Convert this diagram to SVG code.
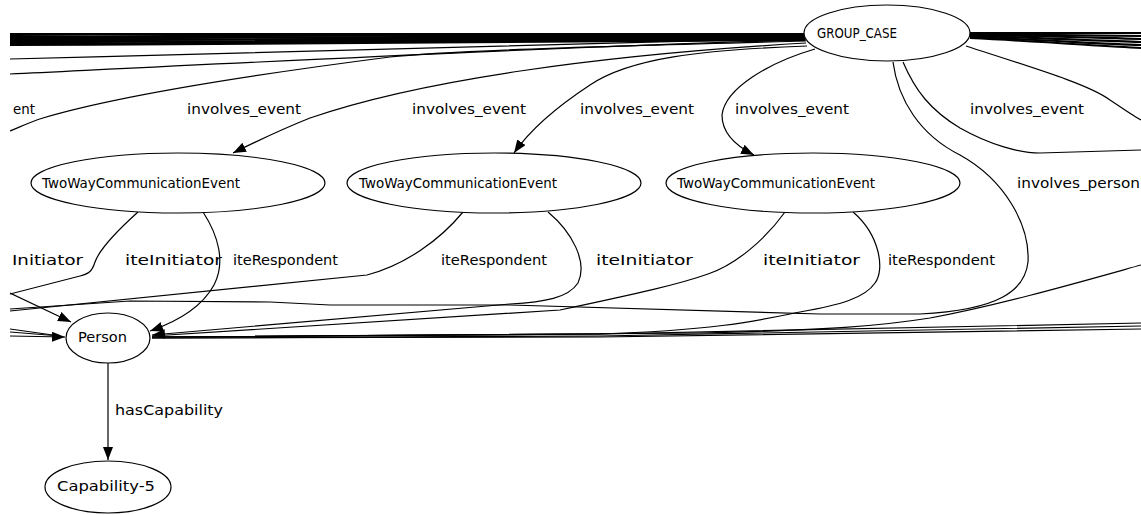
<svg xmlns="http://www.w3.org/2000/svg" width="1141" height="515" viewBox="0 0 1141 515">
<style>
.e path{fill:none;stroke:#000;stroke-width:1.2}
.b path{stroke-width:2.2}
.n ellipse{fill:#fff;stroke:#000;stroke-width:1.2}
text{font-family:"DejaVu Sans",sans-serif;font-size:14px;fill:#000}
</style>
<defs>
<marker id="ah" markerUnits="userSpaceOnUse" markerWidth="14" markerHeight="11" refX="13" refY="5" orient="auto">
<path d="M0,0 L13,5 L0,10 z" fill="#000"/>
</marker>
<clipPath id="clip"><rect x="10" y="0" width="1131" height="515"/></clipPath>
</defs>
<rect width="1141" height="515" fill="#fff"/>
<g class="e" id="edges" clip-path="url(#clip)">
<g class="b">
<path d="M805,34 C600,34 300,34 10,34"/>
<path d="M805,35 C600,36 300,37 10,36"/>
<path d="M805,36 C600,37 300,39 10,38"/>
<path d="M805,37 C600,38 300,41 10,40"/>
<path d="M805,38 C600,39 300,42 10,42"/>
<path d="M805,39 C600,40 300,43 10,44"/>
<path d="M805,40 C600,41 300,44 10,45"/>
<path d="M970,33 L1141,33"/>
<path d="M970,34 L1141,36"/>
<path d="M970,35 C1050,36 1100,38 1141,39"/>
<path d="M970,36 C1050,38 1100,41 1141,42"/>
<path d="M970,37 C1050,40 1100,44 1141,45"/>
<path d="M970,38 C1050,42 1100,46 1141,48"/>
</g>
<path d="M806,38 C600,42 300,52 10,59"/>
<path d="M806,40 C600,45 300,60 10,74"/>
<path d="M806,41 C650,45 450,50 390,57 C250,75 120,95 43,118 C30,122 20,127 10,131"/>
<path d="M806,43 C600,55 420,80 310,118 C280,130 255,142 233,153" marker-end="url(#ah)"/>
<path d="M807,46 C700,50 630,58 590,85 C555,108 530,130 514,153" marker-end="url(#ah)"/>
<path d="M815,49 C770,62 725,88 722,115 C722,135 740,148 754,155" marker-end="url(#ah)"/>
<path d="M893,62 C898,100 920,135 960,155 C1005,180 1030,225 1028,262 C1025,290 1000,310 920,314 L820,314 L510,305 L330,305 L270,302 L130,301 L10,309"/>
<path d="M903,62 C915,90 930,110 960,128 C990,145 1020,153 1040,153 L1141,150"/>
<path d="M966,46 C1040,70 1090,85 1110,100 C1125,110 1135,117 1141,120"/>
<path d="M138,212 C118,230 100,248 95,262 C92,272 88,274 80,276 L10,294"/>
<path d="M203,212 C218,235 226,262 214,285 C203,305 182,320 150,331" marker-end="url(#ah)"/>
<path d="M463,212 C440,240 405,265 367,275 L10,311"/>
<path d="M548,212 C572,232 588,262 578,283 C568,298 545,302 510,304 L152,335" marker-end="url(#ah)"/>
<path d="M785,212 C765,240 735,265 708,274 C680,284 640,293 560,310 L152,336"/>
<path d="M853,212 C880,235 885,270 875,283 C865,298 840,305 800,312 C760,320 720,330 600,334 L152,337"/>
<path d="M1141,265 C1080,282 1000,305 930,318 C880,326 830,330 700,333 L152,337"/>
<path d="M1141,323 L600,334 L152,337" stroke-width="1.6"/>
<path d="M1141,326 L600,336 L152,338" stroke-width="1.6"/>
<path d="M1141,329 L600,337 L152,338" stroke-width="1.6"/>
<path d="M10,293 L71,322" marker-end="url(#ah)"/>
<path d="M10,329 L60,336" stroke-width="1.6"/>
<path d="M10,332 L60,336" stroke-width="1.6"/>
<path d="M10,336 L65,337" stroke-width="1.6" marker-end="url(#ah)"/>
<path d="M108,363 L108,460" marker-end="url(#ah)"/>
</g>
<g id="labels">
<text x="13" y="114" textLength="22" lengthAdjust="spacingAndGlyphs">ent</text>
<text x="187" y="114" textLength="114" lengthAdjust="spacingAndGlyphs">involves_event</text>
<text x="412" y="114" textLength="114" lengthAdjust="spacingAndGlyphs">involves_event</text>
<text x="580" y="114" textLength="114" lengthAdjust="spacingAndGlyphs">involves_event</text>
<text x="735" y="114" textLength="114" lengthAdjust="spacingAndGlyphs">involves_event</text>
<text x="970" y="114" textLength="114" lengthAdjust="spacingAndGlyphs">involves_event</text>
<text x="1017" y="188" textLength="123" lengthAdjust="spacingAndGlyphs">involves_person</text>
<text x="12" y="265" textLength="71" lengthAdjust="spacingAndGlyphs">Initiator</text>
<text x="125" y="265" textLength="97" lengthAdjust="spacingAndGlyphs">iteInitiator</text>
<text x="233" y="265" textLength="105" lengthAdjust="spacingAndGlyphs">iteRespondent</text>
<text x="441" y="265" textLength="106" lengthAdjust="spacingAndGlyphs">iteRespondent</text>
<text x="596" y="265" textLength="97" lengthAdjust="spacingAndGlyphs">iteInitiator</text>
<text x="763" y="265" textLength="97" lengthAdjust="spacingAndGlyphs">iteInitiator</text>
<text x="888" y="265" textLength="107" lengthAdjust="spacingAndGlyphs">iteRespondent</text>
<text x="115" y="415" textLength="108" lengthAdjust="spacingAndGlyphs">hasCapability</text>
</g>
<g class="n" id="GROUP_CASE"><ellipse cx="887" cy="33" rx="83" ry="28"/><text x="817" y="38" font-size="15" textLength="80" lengthAdjust="spacingAndGlyphs">GROUP_CASE</text></g>
<g class="n" id="TWCE1"><ellipse cx="178" cy="183" rx="147" ry="30"/><text x="42" y="188" textLength="198" lengthAdjust="spacingAndGlyphs">TwoWayCommunicationEvent</text></g>
<g class="n" id="TWCE2"><ellipse cx="494" cy="183" rx="147" ry="30"/><text x="359" y="188" textLength="198" lengthAdjust="spacingAndGlyphs">TwoWayCommunicationEvent</text></g>
<g class="n" id="TWCE3"><ellipse cx="813" cy="183" rx="147" ry="30"/><text x="677" y="188" textLength="198" lengthAdjust="spacingAndGlyphs">TwoWayCommunicationEvent</text></g>
<g class="n" id="Person"><ellipse cx="108" cy="338" rx="42" ry="25"/><text x="78" y="342" textLength="49" lengthAdjust="spacingAndGlyphs">Person</text></g>
<g class="n" id="Capability-5"><ellipse cx="108" cy="487" rx="63" ry="26"/><text x="57" y="491" textLength="98" lengthAdjust="spacingAndGlyphs">Capability-5</text></g>
</svg>
